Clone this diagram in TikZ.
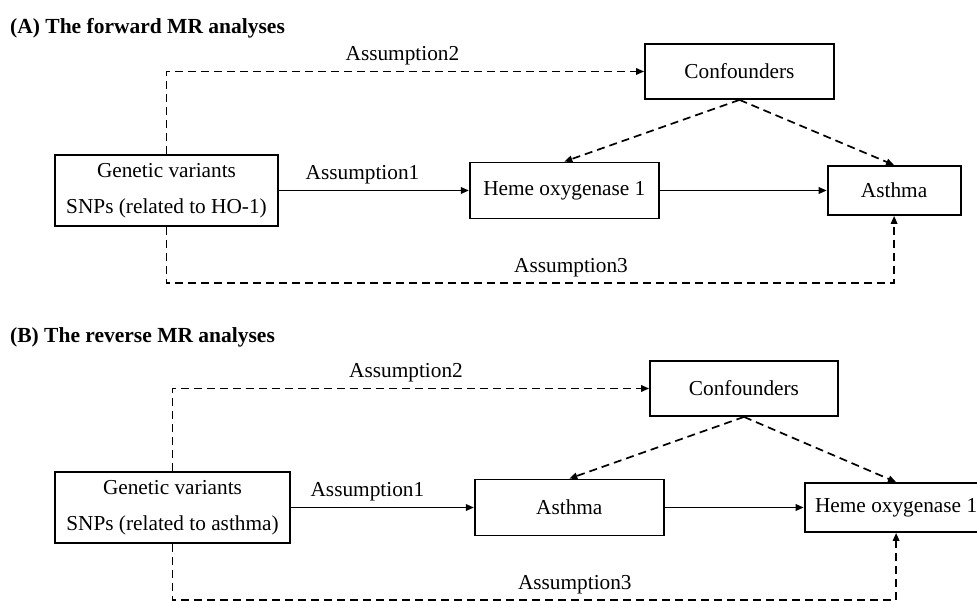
\documentclass[tikz,border=0pt]{standalone}
\usepackage{fontspec}
\setmainfont{Liberation Serif}
\usetikzlibrary{arrows.meta, positioning}

\begin{document}
\begin{tikzpicture}[
    x=1pt, y=-1pt,
    box/.style={rectangle, draw=black, line width=1.8pt, align=center, inner sep=0pt, font=\fontsize{21.3}{36}\selectfont},
    paneltitle/.style={font=\fontsize{21.5}{26}\selectfont\bfseries, inner sep=0pt, anchor=base west},
    arrow/.style={-{Triangle[length=8pt,width=6.5pt]}, line width=1.7pt},
    darrow/.style={arrow, dash pattern=on 8pt off 5pt},
    lbl/.style={above, inner sep=5.5pt, font=\fontsize{21.3}{26}\selectfont},
]
\useasboundingbox (0,0) rectangle (977,601);

% (A) forward
\node[paneltitle] (titleA) at (10,34) {(A) The forward MR analyses};

\node[box, minimum width=223pt, minimum height=71pt] (gvA) at (166.5,190.5)
    {Genetic variants\\SNPs (related to HO-1)};
\node[box, minimum width=189pt, minimum height=56pt, right=190pt of gvA] (hoA) {Heme oxygenase 1};
\node[box, minimum width=133pt, minimum height=49pt, right=167pt of hoA] (asA) {Asthma};
\node[box, minimum width=189pt, minimum height=55pt] (cfA) at (739.5,71.5) {Confounders};
\coordinate (botA) at (166.5,283);

\draw[arrow] (gvA) -- node[lbl, pos=0.44] {Assumption1} (hoA);
\draw[arrow] (hoA) -- (asA);
\draw[darrow] (gvA.north) |- node[lbl, pos=0.747] {Assumption2} (cfA.west);
\draw[darrow] (cfA.south) -- (hoA.north);
\draw[darrow] (cfA.south) -- (asA.north);
\draw[darrow] (gvA.south) -- (botA) -| node[lbl, pos=0.278] {Assumption3} (asA.south);

% (B) reverse
\node[paneltitle] (titleB) at (10,343) {(B) The reverse MR analyses};

\node[box, minimum width=235pt, minimum height=71pt] (gvB) at (172.5,507.5)
    {Genetic variants\\SNPs (related to asthma)};
\node[box, minimum width=189pt, minimum height=56pt, right=183pt of gvB] (asB) {Asthma};
\node[box, minimum width=183pt, minimum height=49pt, right=139pt of asB] (hoB) {Heme oxygenase 1};
\node[box, minimum width=188pt, minimum height=55pt] (cfB) at (744,388.5) {Confounders};
\coordinate (botB) at (172.5,600);

\draw[arrow] (gvB) -- node[lbl, pos=0.418] {Assumption1} (asB);
\draw[arrow] (asB) -- (hoB);
\draw[darrow] (gvB.north) |- node[lbl, pos=0.745] {Assumption2} (cfB.west);
\draw[darrow] (cfB.south) -- (asB.north);
\draw[darrow] (cfB.south) -- (hoB.north);
\draw[darrow] (gvB.south) -- (botB) -| node[lbl, pos=0.278] {Assumption3} (hoB.south);

\end{tikzpicture}
\end{document}
